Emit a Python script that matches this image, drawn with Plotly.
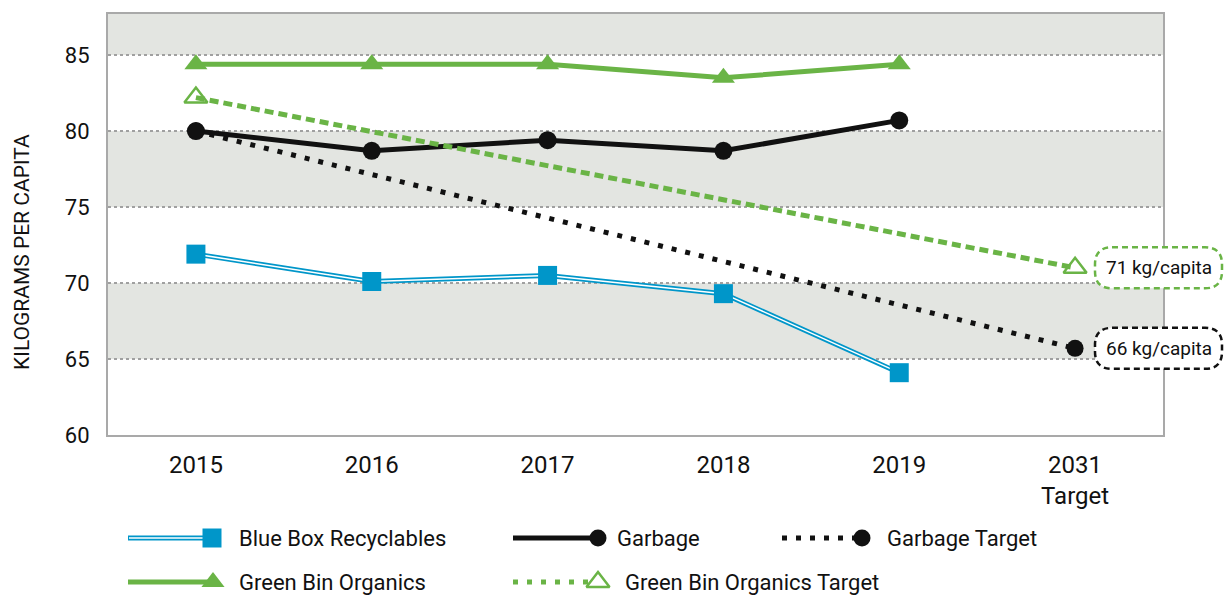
import plotly.graph_objects as go

# ---------------- data ----------------
years = ["2015", "2016", "2017", "2018", "2019", "2031<br>Target"]
actual_years = years[:5]
blue_box = [71.9, 70.1, 70.5, 69.3, 64.1]
garbage = [80.0, 78.7, 79.4, 78.7, 80.7]
green_bin = [84.4, 84.4, 84.4, 83.5, 84.4]
target_years = ["2015", "2031<br>Target"]
garbage_target = [80.0, 65.7]
green_target = [82.2, 71.0]
target_labels = ["71 kg/capita", "66 kg/capita"]
y_ticks = [60, 65, 70, 75, 80, 85]
y_title = "KILOGRAMS PER CAPITA"

# ---------------- style ----------------
FONT = "Roboto, Liberation Sans, sans-serif"
GREEN = "#6ab446"
BLUE = "#0096c9"
BLACK = "#111111"
BAND = "#e3e5e1"
BORDER = "#a9a9a9"
Y_MIN, Y_MAX = 60, 87.7
W, H = 1225, 598
ML, MR, MT, MB = 108, 62, 14, 0
PLOT_BOTTOM_PX = 435
DOM0 = (H - PLOT_BOTTOM_PX) / (H - MT - MB)

def ypaper(v):
    return DOM0 + (v - Y_MIN) / (Y_MAX - Y_MIN) * (1 - DOM0)

def xpaper(px):
    return (px - ML) / (W - ML - MR)

def ypaper_px(py):
    return (H - MB - py) / (H - MT - MB)

fig = go.Figure()

# Blue box (double line)
fig.add_trace(go.Scatter(x=actual_years, y=blue_box, mode="lines",
                         line=dict(color=BLUE, width=5), showlegend=False, hoverinfo="skip"))
fig.add_trace(go.Scatter(x=actual_years, y=blue_box, mode="lines",
                         line=dict(color="white", width=1.5), showlegend=False, hoverinfo="skip"))
fig.add_trace(go.Scatter(x=actual_years, y=blue_box, mode="markers", name="Blue Box Recyclables",
                         marker=dict(symbol="square", size=19, color=BLUE), showlegend=False))
# Garbage target
fig.add_trace(go.Scatter(x=target_years, y=garbage_target, mode="lines+markers", name="Garbage Target",
                         line=dict(color=BLACK, width=5, dash="5px,9px"),
                         marker=dict(symbol="circle", size=17, color=BLACK), showlegend=False))
# Garbage
fig.add_trace(go.Scatter(x=actual_years, y=garbage, mode="lines+markers", name="Garbage",
                         line=dict(color=BLACK, width=5),
                         marker=dict(symbol="circle", size=18, color=BLACK), showlegend=False))
# Green target
fig.add_trace(go.Scatter(x=target_years, y=green_target, mode="lines+markers", name="Green Bin Organics Target",
                         line=dict(color=GREEN, width=5, dash="9px,5px"),
                         marker=dict(symbol="triangle-up-open", size=20, color=GREEN,
                                     line=dict(color=GREEN, width=2.5)), showlegend=False))
# Green bin
fig.add_trace(go.Scatter(x=actual_years, y=green_bin, mode="lines+markers", name="Green Bin Organics",
                         line=dict(color=GREEN, width=5),
                         marker=dict(symbol="triangle-up", size=20, color=GREEN), showlegend=False))

# ---------------- manual legend (pixel coordinates on helper axes) ----------------
legend_items = [
    ("Blue Box Recyclables", 128, 210, 212, 538, "double", dict(symbol="square", size=19, color=BLUE), 237),
    ("Garbage", 513, 598, 598, 538, dict(color=BLACK, width=5), dict(symbol="circle", size=17, color=BLACK), 615),
    ("Garbage Target", 782, 858, 862, 538, dict(color=BLACK, width=5, dash="5px,9px"),
     dict(symbol="circle", size=17, color=BLACK), 885),
    ("Green Bin Organics", 128, 212, 213, 582, dict(color=GREEN, width=5),
     dict(symbol="triangle-up", size=20, color=GREEN), 237),
    ("Green Bin Organics Target", 513, 592, 598, 582, dict(color=GREEN, width=5, dash="5px,9px"),
     dict(symbol="triangle-up-open", size=20, color=GREEN, line=dict(color=GREEN, width=2.5)), 623),
]
annotations = []
for name, x0, x1, xm, yy, ls, mk, xt in legend_items:
    if ls == "double":
        fig.add_trace(go.Scatter(x=[x0, x1], y=[yy, yy], xaxis="x2", yaxis="y2", mode="lines",
                                 line=dict(color=BLUE, width=5), showlegend=False, hoverinfo="skip", cliponaxis=False))
        fig.add_trace(go.Scatter(x=[x0 + 1, x1], y=[yy, yy], xaxis="x2", yaxis="y2", mode="lines",
                                 line=dict(color="white", width=1.5), showlegend=False, hoverinfo="skip", cliponaxis=False))
    else:
        fig.add_trace(go.Scatter(x=[x0, x1], y=[yy, yy], xaxis="x2", yaxis="y2", mode="lines",
                                 line=ls, showlegend=False, hoverinfo="skip", cliponaxis=False))
    fig.add_trace(go.Scatter(x=[xm], y=[yy], xaxis="x2", yaxis="y2", mode="markers",
                             marker=mk, showlegend=False, hoverinfo="skip", cliponaxis=False))
    annotations.append(dict(x=xt, y=yy, xref="x2", yref="y2", text=name, showarrow=False,
                            xanchor="left", yanchor="middle", font=dict(family=FONT, size=22, color=BLACK)))

# y-axis title (placed as rotated annotation)
annotations.append(dict(x=xpaper(22), y=ypaper_px(252), xref="paper", yref="paper", text=y_title,
                        showarrow=False, textangle=-90, xanchor="center", yanchor="middle",
                        font=dict(family=FONT, size=21, color=BLACK)))

# ---------------- background bands ----------------
shapes = []
for lo, hi in [(65, 70), (75, 80), (85, Y_MAX)]:
    shapes.append(dict(type="rect", xref="paper", yref="y", x0=0, x1=1, y0=lo, y1=hi,
                       fillcolor=BAND, line=dict(width=0), layer="below"))

# ---------------- target label boxes ----------------
def rounded_box(xc0, xc1, yc0, yc1, rpx):
    rx = rpx / (W - ML - MR)
    ry = rpx / (H - MT - MB)
    return (f"M{xc0+rx},{yc1} L{xc1-rx},{yc1} Q{xc1},{yc1} {xc1},{yc1-ry} "
            f"L{xc1},{yc0+ry} Q{xc1},{yc0} {xc1-rx},{yc0} L{xc0+rx},{yc0} "
            f"Q{xc0},{yc0} {xc0},{yc0+ry} L{xc0},{yc1-ry} Q{xc0},{yc1} {xc0+rx},{yc1} Z")

box_colors = [GREEN, BLACK]
box_values = [green_target[-1], garbage_target[-1]]
bx0, bx1 = xpaper(1095), xpaper(1222)
half_h = 20.5 / (H - MT - MB)
for lab, val, col in zip(target_labels, box_values, box_colors):
    yc = ypaper(val)
    shapes.append(dict(type="path", xref="paper", yref="paper",
                       path=rounded_box(bx0, bx1, yc - half_h, yc + half_h, 17),
                       line=dict(color=col, width=2.5, dash="6px,4px"), fillcolor="white", layer="above"))
    annotations.append(dict(x=(bx0 + bx1) / 2, y=val, xref="paper", yref="y", text=lab, showarrow=False,
                            xanchor="center", yanchor="middle", font=dict(family=FONT, size=19, color=BLACK)))

fig.update_layout(
    template="none",
    width=W, height=H,
    margin=dict(l=ML, r=MR, t=MT, b=MB, pad=0),
    plot_bgcolor="white", paper_bgcolor="white",
    showlegend=False,
    font=dict(family=FONT, color=BLACK),
    xaxis=dict(type="category", categoryorder="array", categoryarray=years, range=[-0.5, 5.5],
               domain=[0, 1], anchor="y", showgrid=False, zeroline=False,
               showline=True, linecolor=BORDER, linewidth=2, mirror=True, ticks="",
               tickfont=dict(family=FONT, size=24, color=BLACK), automargin=False,
               ticklabelstandoff=7),
    yaxis=dict(domain=[DOM0, 1], range=[Y_MIN, Y_MAX], tickvals=y_ticks, anchor="x",
               showgrid=True, gridcolor="#a0a0a0", griddash="dot", gridwidth=1.5, zeroline=False,
               showline=True, linecolor=BORDER, linewidth=2, mirror=True, ticks="",
               tickfont=dict(family=FONT, size=22, color=BLACK), automargin=False,
               ticklabelstandoff=12),
    xaxis2=dict(domain=[0, 1], anchor="y2", range=[ML, W - MR], visible=False),
    yaxis2=dict(domain=[0, DOM0], anchor="x2", range=[H, PLOT_BOTTOM_PX], visible=False),
    shapes=shapes,
    annotations=annotations,
)

fig.write_html("out.html", config={"displayModeBar": False},
               post_script="document.body.style.margin='0';document.body.style.overflow='hidden';")
